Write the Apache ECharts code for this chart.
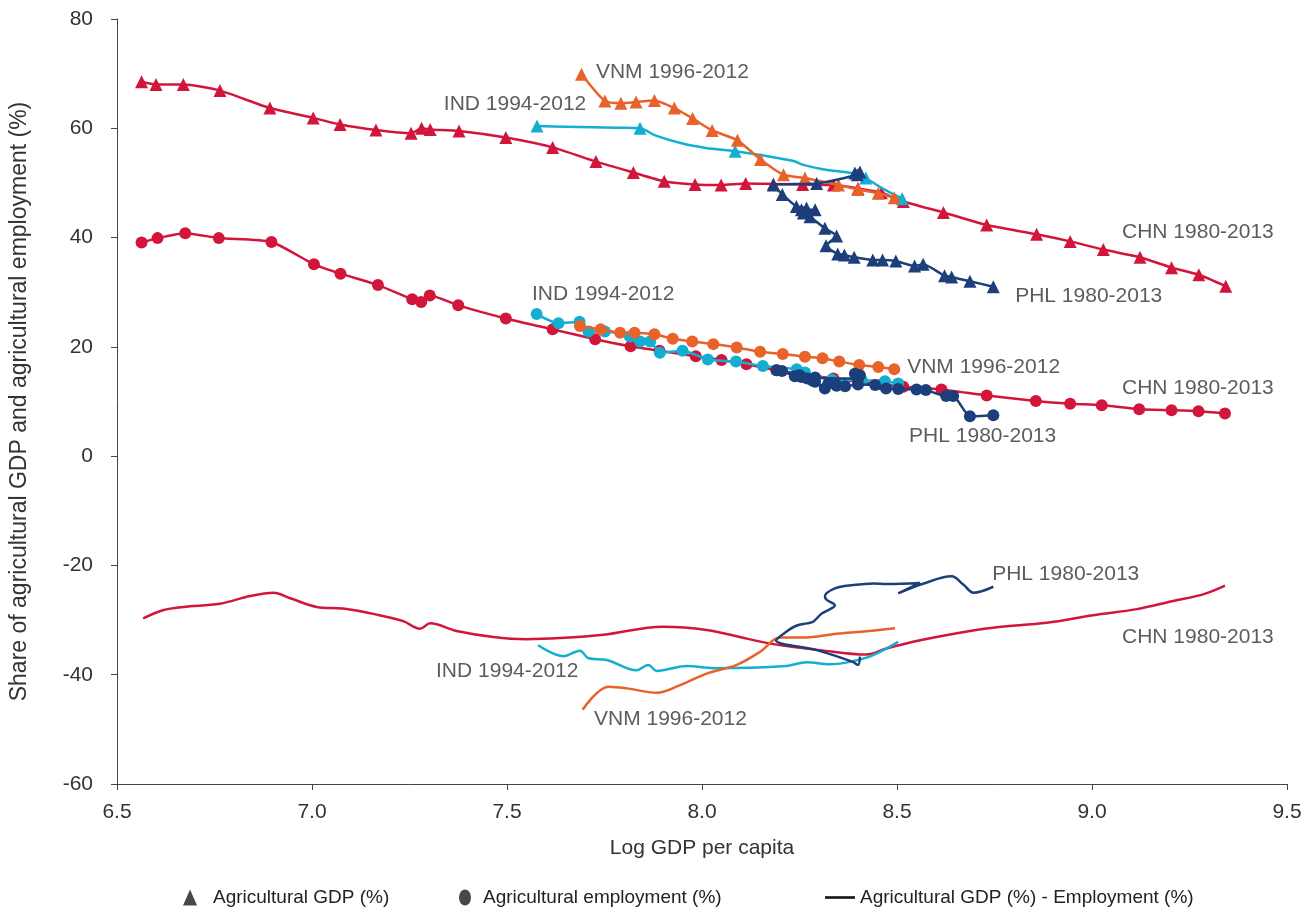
<!DOCTYPE html>
<html>
<head>
<meta charset="utf-8">
<script src="https://cdn.jsdelivr.net/npm/echarts@6/dist/echarts.min.js"></script>
<style>
html,body{margin:0;padding:0;background:#fff;}
#chart{width:1310px;height:911px;}
</style>
</head>
<body>
<div id="chart"></div>
<script>
// ---- Data ----
const xTicks = [6.5, 7.0, 7.5, 8.0, 8.5, 9.0, 9.5];
const yTicks = [-60, -40, -20, 0, 20, 40, 60, 80];

// CHN 1980-2013
const chnGdpX = [6.563,6.60,6.67,6.764,6.892,7.003,7.072,7.164,7.254,7.281,7.303,7.377,7.497,7.617,7.728,7.824,7.903,7.982,8.049,8.112,8.183,8.258,8.337,8.40,8.46,8.516,8.619,8.730,8.858,8.944,9.029,9.123,9.204,9.274,9.343];
const chnGdpY = [68.5,68.0,68.0,66.9,63.7,61.9,60.7,59.7,59.1,60.0,59.8,59.5,58.3,56.5,53.9,51.9,50.3,49.7,49.6,49.9,49.8,49.7,49.6,49.0,48.2,46.6,44.6,42.3,40.6,39.3,37.8,36.4,34.5,33.2,31.1];
const chnEmpX = [6.563,6.604,6.675,6.761,6.896,7.005,7.073,7.169,7.257,7.280,7.302,7.375,7.497,7.617,7.726,7.817,7.891,7.984,8.05,8.114,8.191,8.258,8.337,8.40,8.46,8.516,8.614,8.730,8.856,8.944,9.025,9.121,9.204,9.273,9.341];
const chnEmpY = [39.1,39.9,40.8,39.9,39.2,35.1,33.4,31.3,28.7,28.2,29.4,27.6,25.2,23.2,21.4,20.1,19.3,18.3,17.6,16.8,15.7,15.0,14.2,13.6,13.1,12.7,12.2,11.1,10.1,9.6,9.3,8.6,8.4,8.2,7.8];
const chnDiffX = [6.567,6.618,6.67,6.764,6.841,6.901,6.944,7.012,7.08,7.166,7.234,7.277,7.303,7.371,7.465,7.55,7.636,7.747,7.90,8.012,8.115,8.183,8.303,8.422,8.473,8.559,8.687,8.756,8.884,9.003,9.115,9.208,9.285,9.341];
const chnDiffY = [-29.7,-28.2,-27.6,-27.0,-25.6,-25.0,-26.0,-27.6,-27.9,-29.0,-30.2,-31.6,-30.6,-32.0,-33.1,-33.5,-33.3,-32.7,-31.2,-31.8,-33.4,-34.4,-35.5,-36.3,-35.2,-33.7,-32.0,-31.3,-30.5,-29.1,-28.0,-26.5,-25.3,-23.7];

// IND 1994-2012
const indGdpX = [7.577,7.65,7.72,7.78,7.841,7.88,7.95,8.01,8.085,8.15,8.235,8.26,8.31,8.40,8.42,8.46,8.50,8.513];
const indGdpY = [60.4,60.3,60.2,60.1,60.0,58.7,57.2,56.4,55.8,55.1,54.0,53.3,52.5,51.6,50.9,49.1,47.6,47.1];
const indGdpMarked = [0, 4, 8, 14, 17];
const indEmpX = [7.576,7.632,7.686,7.709,7.751,7.815,7.841,7.867,7.892,7.95,8.015,8.087,8.156,8.243,8.264,8.333,8.41,8.469,8.503];
const indEmpY = [26.0,24.3,24.6,22.8,22.8,21.9,21.0,21.0,18.9,19.3,17.7,17.3,16.5,15.9,15.3,14.0,13.9,13.7,13.3];
const indDiffX = [7.58,7.644,7.687,7.709,7.756,7.832,7.862,7.884,7.96,8.029,8.217,8.268,8.328,8.388,8.439,8.503];
const indDiffY = [-34.6,-36.6,-35.6,-37.0,-37.3,-39.2,-38.2,-39.3,-38.4,-38.8,-38.4,-37.7,-38.1,-37.5,-36.4,-34.0];

// VNM 1996-2012
const vnmGdpX = [7.691,7.751,7.792,7.831,7.878,7.929,7.976,8.026,8.091,8.150,8.209,8.264,8.35,8.40,8.452,8.493];
const vnmGdpY = [69.9,65.0,64.6,64.8,65.1,63.7,61.8,59.6,57.8,54.3,51.5,50.9,49.6,48.8,48.1,47.3];
const vnmEmpX = [7.687,7.74,7.79,7.827,7.878,7.925,7.975,8.029,8.089,8.149,8.207,8.264,8.309,8.352,8.403,8.452,8.493];
const vnmEmpY = [23.8,23.2,22.6,22.6,22.3,21.5,21.0,20.5,19.9,19.1,18.7,18.2,17.9,17.3,16.7,16.3,15.9];
const vnmDiffX = [7.694,7.76,7.807,7.884,7.944,8.012,8.089,8.149,8.2,8.26,8.345,8.414,8.495];
const vnmDiffY = [-46.4,-42.2,-42.5,-43.3,-41.9,-39.8,-38.2,-35.8,-33.2,-33.2,-32.5,-32.1,-31.5];

// PHL 1980-2013
const phlGdpX = [8.392,8.405,8.398,8.294,8.183,8.206,8.242,8.268,8.255,8.29,8.26,8.277,8.315,8.345,8.318,8.348,8.365,8.39,8.438,8.463,8.497,8.545,8.567,8.622,8.64,8.687,8.747];
const phlGdpY = [51.8,52.0,51.5,49.9,49.6,47.9,45.7,45.4,45.1,45.1,44.5,43.8,41.7,40.3,38.5,37.0,36.8,36.4,35.9,35.9,35.7,34.8,35.1,33.0,32.8,32.0,31.0];
const phlEmpX = [8.392,8.405,8.40,8.29,8.191,8.205,8.238,8.255,8.25,8.284,8.27,8.29,8.315,8.345,8.324,8.345,8.367,8.40,8.444,8.472,8.503,8.55,8.574,8.626,8.644,8.687,8.747];
const phlEmpY = [15.1,14.8,14.2,14.4,15.7,15.6,14.6,14.5,14.8,13.8,14.2,13.6,12.4,13.0,13.3,12.9,12.8,13.1,13.0,12.4,12.3,12.2,12.1,11.0,11.0,7.3,7.5];
const phlDiffX = [8.405,8.40,8.385,8.294,8.19,8.217,8.243,8.27,8.285,8.307,8.341,8.32,8.315,8.341,8.388,8.44,8.473,8.559,8.503,8.565,8.64,8.67,8.696,8.747];
const phlDiffY = [-36.7,-38.2,-37.6,-35.5,-33.7,-32.1,-31.0,-30.6,-30.3,-28.8,-27.3,-26.3,-25.7,-24.2,-23.6,-23.3,-23.4,-23.2,-25.1,-23.4,-22.0,-23.5,-25.0,-23.9];

// Annotation labels
const labelText = ['VNM 1996-2012','IND 1994-2012','CHN 1980-2013','PHL 1980-2013','IND 1994-2012','VNM 1996-2012','CHN 1980-2013','PHL 1980-2013','PHL 1980-2013','CHN 1980-2013','IND 1994-2012','VNM 1996-2012'];
const labelX = [7.728,7.338,9.077,8.803,7.564,8.526,9.077,8.531,8.744,9.077,7.318,7.723];
const labelY = [70.25,64.4,41.0,29.3,29.6,16.3,12.4,3.66,-21.6,-33.1,-39.3,-48.1];

const legendNames = ['Agricultural GDP (%)','Agricultural employment (%)','Agricultural GDP (%) - Employment (%)'];

// ---- Chart ----
const C = {chn:'#d2163b', ind:'#13afd0', vnm:'#e8622a', phl:'#1c3f7c'};
const FONT = 'Liberation Sans, Arial, sans-serif';
const TXT = '#333';
const pts = (xs, ys) => xs.map((x, i) => [x, ys[i]]);

function markerSeries(name, xs, ys, color, symbol, z) {
  return {
    name: name, type: 'line', data: pts(xs, ys),
    symbol: symbol, symbolSize: symbol === 'triangle' ? 13 : 12,
    showAllSymbol: true, smooth: 0.2, z: z,
    lineStyle: {color: color, width: 2.5},
    itemStyle: {color: color},
    emphasis: {disabled: true}
  };
}
function diffSeries(name, xs, ys, color, z) {
  return {
    name: name, type: 'line', data: pts(xs, ys),
    showSymbol: false, symbol: 'none', smooth: 0.35, z: z,
    lineStyle: {color: color, width: 2.5},
    itemStyle: {color: color},
    emphasis: {disabled: true}
  };
}

const indGdpData = pts(indGdpX, indGdpY).map((p, i) => ({
  value: p, symbolSize: indGdpMarked.indexOf(i) >= 0 ? 13 : 0
}));

const series = [
  markerSeries('CHN GDP', chnGdpX, chnGdpY, C.chn, 'triangle', 2),
  markerSeries('CHN EMP', chnEmpX, chnEmpY, C.chn, 'circle', 2),
  diffSeries('CHN DIFF', chnDiffX, chnDiffY, C.chn, 2),
  {
    name: 'IND GDP', type: 'line', data: indGdpData, symbol: 'triangle',
    showAllSymbol: true, smooth: 0.3, z: 3,
    lineStyle: {color: C.ind, width: 2.5}, itemStyle: {color: C.ind},
    emphasis: {disabled: true}
  },
  markerSeries('IND EMP', indEmpX, indEmpY, C.ind, 'circle', 3),
  diffSeries('IND DIFF', indDiffX, indDiffY, C.ind, 3),
  markerSeries('VNM GDP', vnmGdpX, vnmGdpY, C.vnm, 'triangle', 4),
  markerSeries('VNM EMP', vnmEmpX, vnmEmpY, C.vnm, 'circle', 4),
  diffSeries('VNM DIFF', vnmDiffX, vnmDiffY, C.vnm, 4),
  markerSeries('PHL GDP', phlGdpX, phlGdpY, C.phl, 'triangle', 5),
  markerSeries('PHL EMP', phlEmpX, phlEmpY, C.phl, 'circle', 5),
  diffSeries('PHL DIFF', phlDiffX, phlDiffY, C.phl, 5),
  {
    name: 'labels', type: 'scatter', symbolSize: 0, silent: true, z: 10,
    data: labelText.map((t, i) => ({name: t, value: [labelX[i], labelY[i]]})),
    label: {show: true, position: 'right', distance: 0, formatter: p => p.name,
      fontFamily: FONT, fontSize: 21, color: TXT}
  },
  {name: legendNames[0], type: 'scatter', data: [], itemStyle: {color: '#1a1a1a'}},
  {name: legendNames[1], type: 'scatter', data: [], itemStyle: {color: '#1a1a1a'}},
  {name: legendNames[2], type: 'line', data: [], itemStyle: {color: '#1a1a1a'}, lineStyle: {color: '#1a1a1a'}}
];

const legendText = {fontFamily: FONT, fontSize: 19, color: '#222'};
const option = {
  animation: false,
  backgroundColor: '#fff',
  grid: {left: 117, right: 23, top: 19, bottom: 127},
  xAxis: {
    type: 'value', min: xTicks[0], max: xTicks[xTicks.length - 1], interval: 0.5,
    name: 'Log GDP per capita', nameLocation: 'middle', nameGap: 54,
    nameTextStyle: {fontFamily: FONT, fontSize: 21, color: TXT},
    axisLine: {show: true, onZero: false, lineStyle: {color: '#444', width: 1}},
    axisTick: {show: true, length: 6, lineStyle: {color: '#444'}},
    axisLabel: {fontFamily: FONT, fontSize: 21, color: TXT, margin: 18,
      formatter: v => v.toFixed(1)},
    splitLine: {show: false}
  },
  yAxis: {
    type: 'value', min: yTicks[0], max: yTicks[yTicks.length - 1], interval: 20,
    name: 'Share of agricultural GDP and agricultural employment (%)',
    nameLocation: 'middle', nameGap: 86,
    nameTextStyle: {fontFamily: FONT, fontSize: 23, color: TXT},
    axisLine: {show: true, onZero: false, lineStyle: {color: '#444', width: 1}},
    axisTick: {show: true, length: 6, lineStyle: {color: '#444'}},
    axisLabel: {fontFamily: FONT, fontSize: 21, color: TXT, margin: 24},
    splitLine: {show: false}
  },
  legend: [
    {left: 178, top: 883, itemWidth: 36, itemHeight: 16, itemGap: 0, textStyle: legendText,
      selectedMode: false,
      data: [{name: legendNames[0], icon: 'path://M7,0 L14,16 L0,16 Z'}]},
    {left: 454, top: 883, itemWidth: 26, itemHeight: 16, itemGap: 0, textStyle: legendText,
      selectedMode: false,
      data: [{name: legendNames[1], icon: 'path://M6,0 A6,8 0 1 1 5.99,0 Z'}]},
    {left: 820, top: 883, itemWidth: 30, itemHeight: 16, itemGap: 0, textStyle: legendText,
      selectedMode: false,
      data: [{name: legendNames[2], icon: 'path://M0,0 H28 V2.5 H0 Z'}]}
  ],
  series: series
};

const chart = echarts.init(document.getElementById('chart'), null, {renderer: 'canvas'});
chart.setOption(option);
</script>
</body>
</html>
